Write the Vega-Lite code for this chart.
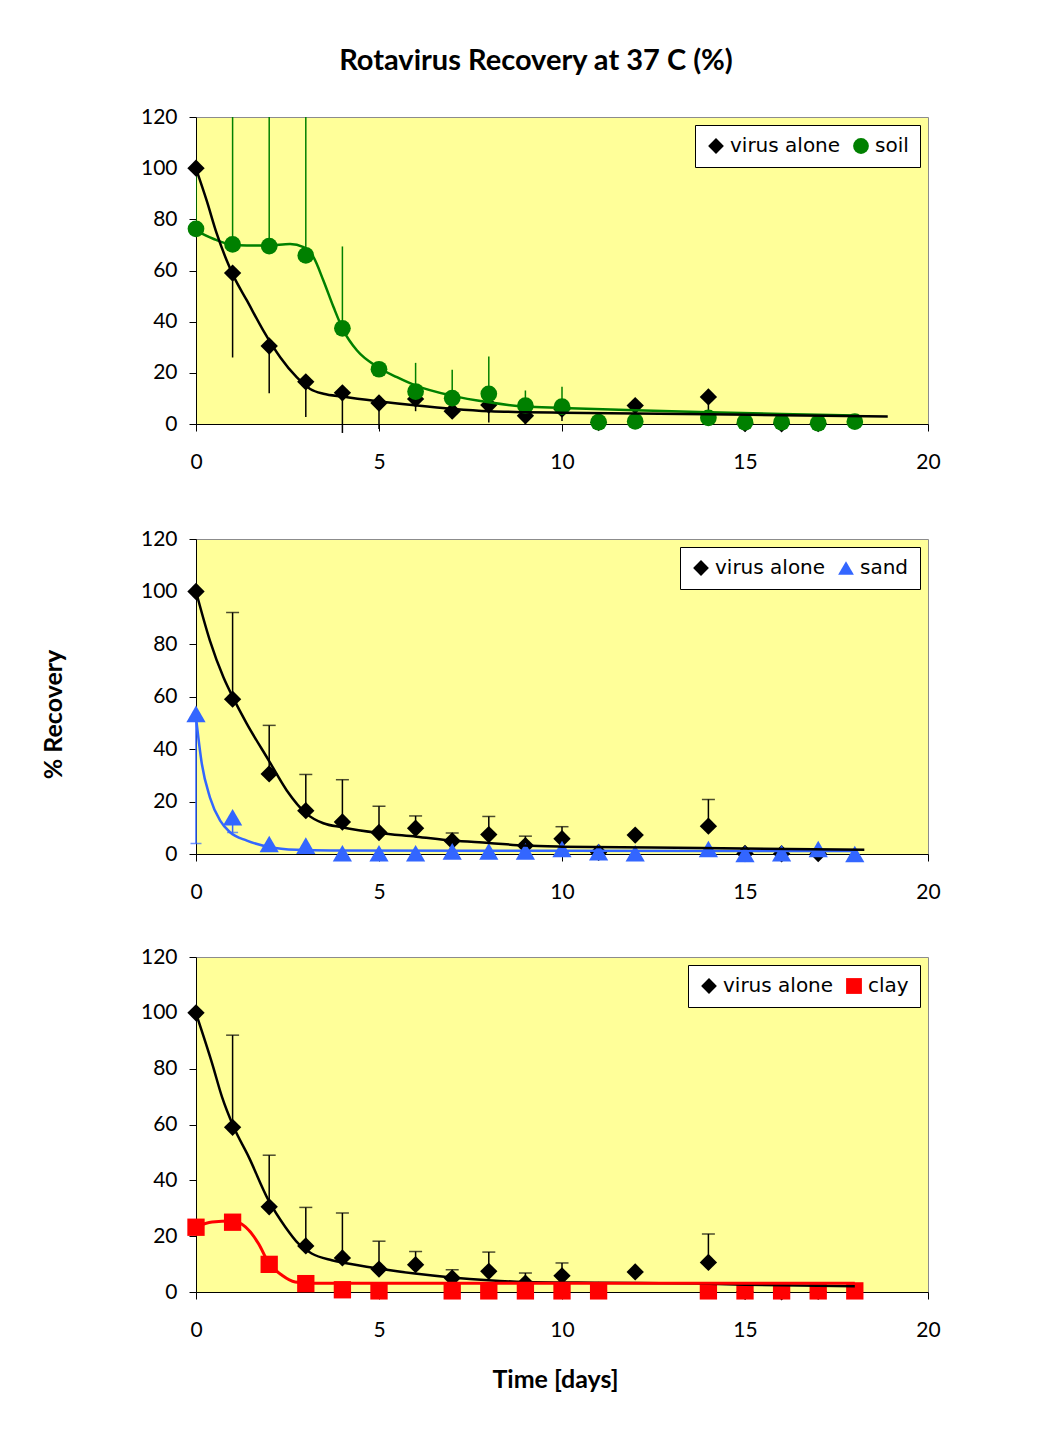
{
  "$schema": "https://vega.github.io/schema/vega-lite/v6.json",
  "background": "white",
  "padding": {"left": 40, "top": 46, "right": 5, "bottom": 5},
  "config": {
    "view": {"fill": "#FFFF99", "stroke": "#8C8C8C", "strokeWidth": 1},
    "axis": {"grid": false, "domainColor": "black", "tickColor": "black", "tickSize": 7, "tickWidth": 1, "domainWidth": 1, "labelFont": "Lato", "labelFontSize": 21, "labelColor": "black", "labelFlush": false, "labelOverlap": false},
    "axisX": {"labelPadding": 20},
    "axisY": {"labelPadding": 12, "titleFont": "Lato", "titleFontSize": 25, "titleFontWeight": "bold", "titleColor": "black", "titleAngle": -90, "titleX": -143, "titleY": 175, "titleAlign": "center", "titleBaseline": "middle"},
    "legend": {"orient": "top-right", "direction": "horizontal", "fillColor": "white", "strokeColor": "black", "padding": 11, "offset": 8, "labelFont": "DejaVu Sans", "labelFontSize": 20, "labelColor": "black", "symbolSize": 250, "symbolStrokeWidth": 0, "symbolOpacity": 1, "labelOffset": 4, "columnPadding": 10}
  },
  "datasets": {
    "virus": [
      {"series": "virus alone", "day": 0, "value": 100},
      {"series": "virus alone", "day": 1, "value": 59, "lo": 26, "hi": 92},
      {"series": "virus alone", "day": 2, "value": 30.5, "lo": 12, "hi": 49},
      {"series": "virus alone", "day": 3, "value": 16.5, "lo": 2.7, "hi": 30.3},
      {"series": "virus alone", "day": 4, "value": 12.2, "lo": -3.5, "hi": 28.3},
      {"series": "virus alone", "day": 5, "value": 8.2, "lo": -2, "hi": 18.2},
      {"series": "virus alone", "day": 6, "value": 9.8, "lo": 5, "hi": 14.5},
      {"series": "virus alone", "day": 7, "value": 5, "lo": 2, "hi": 8},
      {"series": "virus alone", "day": 8, "value": 7.4, "lo": 0.6, "hi": 14.3},
      {"series": "virus alone", "day": 9, "value": 3.2, "lo": -0.3, "hi": 6.8},
      {"series": "virus alone", "day": 10, "value": 5.8, "lo": 1.2, "hi": 10.4},
      {"series": "virus alone", "day": 11, "value": 0.6},
      {"series": "virus alone", "day": 12, "value": 7.2},
      {"series": "virus alone", "day": 14, "value": 10.6, "lo": 0.5, "hi": 20.8},
      {"series": "virus alone", "day": 15, "value": 0.2},
      {"series": "virus alone", "day": 16, "value": 0.1},
      {"series": "virus alone", "day": 17, "value": 0.2}
    ],
    "soil": [
      {"series": "soil", "day": 0, "value": 76.3, "hi": 99},
      {"series": "soil", "day": 1, "value": 70.2, "hi": 160},
      {"series": "soil", "day": 2, "value": 69.5, "hi": 160},
      {"series": "soil", "day": 3, "value": 65.9, "hi": 160},
      {"series": "soil", "day": 4, "value": 37.4, "hi": 69.4},
      {"series": "soil", "day": 5, "value": 21.4},
      {"series": "soil", "day": 6, "value": 12.7, "hi": 23.9},
      {"series": "soil", "day": 7, "value": 10.1, "hi": 21.2},
      {"series": "soil", "day": 8, "value": 11.8, "hi": 26.4},
      {"series": "soil", "day": 9, "value": 7.2, "hi": 13.1},
      {"series": "soil", "day": 10, "value": 6.8, "hi": 14.6},
      {"series": "soil", "day": 11, "value": 0.7},
      {"series": "soil", "day": 12, "value": 1.0},
      {"series": "soil", "day": 14, "value": 2.4},
      {"series": "soil", "day": 15, "value": 0.7},
      {"series": "soil", "day": 16, "value": 0.7},
      {"series": "soil", "day": 17, "value": 0.3},
      {"series": "soil", "day": 18, "value": 0.9}
    ],
    "sand": [
      {"series": "sand", "day": 0, "value": 53.4, "lo": 4},
      {"series": "sand", "day": 1, "value": 14, "lo": 8.2},
      {"series": "sand", "day": 2, "value": 3.8},
      {"series": "sand", "day": 3, "value": 3.2},
      {"series": "sand", "day": 4, "value": 0.3},
      {"series": "sand", "day": 5, "value": 0.3},
      {"series": "sand", "day": 6, "value": 0.3},
      {"series": "sand", "day": 7, "value": 1},
      {"series": "sand", "day": 8, "value": 1},
      {"series": "sand", "day": 9, "value": 1},
      {"series": "sand", "day": 10, "value": 1.9},
      {"series": "sand", "day": 11, "value": 0.7},
      {"series": "sand", "day": 12, "value": 0.3},
      {"series": "sand", "day": 14, "value": 1.9},
      {"series": "sand", "day": 15, "value": 0},
      {"series": "sand", "day": 16, "value": 0.3},
      {"series": "sand", "day": 17, "value": 1.9},
      {"series": "sand", "day": 18, "value": 0}
    ],
    "clay": [
      {"series": "clay", "day": 0, "value": 23.2},
      {"series": "clay", "day": 1, "value": 25},
      {"series": "clay", "day": 2, "value": 9.9},
      {"series": "clay", "day": 3, "value": 3},
      {"series": "clay", "day": 4, "value": 0.8},
      {"series": "clay", "day": 5, "value": 0.4},
      {"series": "clay", "day": 7, "value": 0.4},
      {"series": "clay", "day": 8, "value": 0.4},
      {"series": "clay", "day": 9, "value": 0.4},
      {"series": "clay", "day": 10, "value": 0.4},
      {"series": "clay", "day": 11, "value": 0.4},
      {"series": "clay", "day": 14, "value": 0.4},
      {"series": "clay", "day": 15, "value": 0.4},
      {"series": "clay", "day": 16, "value": 0.4},
      {"series": "clay", "day": 17, "value": 0.4},
      {"series": "clay", "day": 18, "value": 0.4}
    ],
    "fit_virus1": [
      {"day": 0, "value": 99.8}, {"day": 0.29, "value": 87.4}, {"day": 0.57, "value": 74.3}, {"day": 0.84, "value": 63.9},
      {"day": 1.04, "value": 57.4}, {"day": 1.39, "value": 48.3}, {"day": 1.84, "value": 36.5}, {"day": 2.3, "value": 26.1},
      {"day": 2.75, "value": 18.3}, {"day": 3.12, "value": 13.7}, {"day": 3.48, "value": 11.8}, {"day": 4.03, "value": 10.7},
      {"day": 5.03, "value": 8.8}, {"day": 6.04, "value": 7.2}, {"day": 7.04, "value": 5.9}, {"day": 8.04, "value": 5.0},
      {"day": 9, "value": 4.6}, {"day": 10, "value": 4.4}, {"day": 12, "value": 4.1}, {"day": 14, "value": 3.8},
      {"day": 16, "value": 3.4}, {"day": 18.9, "value": 2.9}
    ],
    "fit_soil": [
      {"day": 0, "value": 75.6}, {"day": 0.47, "value": 72.4}, {"day": 0.93, "value": 70.2}, {"day": 1.39, "value": 69.8},
      {"day": 1.98, "value": 69.8}, {"day": 2.57, "value": 70.4}, {"day": 2.94, "value": 69.1}, {"day": 3.21, "value": 65.2},
      {"day": 3.48, "value": 56.1}, {"day": 3.76, "value": 45.6}, {"day": 4.03, "value": 36.5}, {"day": 4.4, "value": 28.7},
      {"day": 4.97, "value": 22.2}, {"day": 5.49, "value": 18.3}, {"day": 6.01, "value": 15.0}, {"day": 6.98, "value": 11.1},
      {"day": 8.0, "value": 8.5}, {"day": 8.98, "value": 6.8}, {"day": 10, "value": 6.3}, {"day": 12, "value": 5.4},
      {"day": 14, "value": 4.6}, {"day": 16, "value": 3.9}, {"day": 18, "value": 3.3}
    ],
    "fit_virus2": [
      {"day": 0, "value": 100}, {"day": 0.38, "value": 81.3}, {"day": 0.75, "value": 67.3}, {"day": 1.04, "value": 58.8},
      {"day": 1.39, "value": 49.6}, {"day": 1.99, "value": 35.6}, {"day": 2.48, "value": 24.2}, {"day": 3.02, "value": 15.3},
      {"day": 3.48, "value": 11.7}, {"day": 3.98, "value": 10.2}, {"day": 5.0, "value": 8.0}, {"day": 6.02, "value": 6.6},
      {"day": 7.0, "value": 5.1}, {"day": 8.0, "value": 4.2}, {"day": 8.98, "value": 3.2}, {"day": 10, "value": 2.8},
      {"day": 13.8, "value": 2.3}, {"day": 18.26, "value": 1.6}
    ],
    "fit_sand": [
      {"day": 0, "value": 52}, {"day": 0.16, "value": 34.3}, {"day": 0.38, "value": 21.6}, {"day": 0.66, "value": 12.7},
      {"day": 0.93, "value": 8.3}, {"day": 1.39, "value": 5.1}, {"day": 2.02, "value": 2.6}, {"day": 2.75, "value": 1.6},
      {"day": 3.67, "value": 1.3}, {"day": 10, "value": 1.2}, {"day": 18, "value": 1.1}
    ],
    "fit_virus3": [
      {"day": 0, "value": 99.8}, {"day": 0.44, "value": 81.9}, {"day": 0.71, "value": 69.9}, {"day": 1.03, "value": 59.1},
      {"day": 1.44, "value": 48.4}, {"day": 1.98, "value": 32.9}, {"day": 2.44, "value": 23.3}, {"day": 2.8, "value": 17.3},
      {"day": 3.16, "value": 13.8}, {"day": 3.71, "value": 11.4}, {"day": 4.07, "value": 10.4}, {"day": 4.98, "value": 8.4},
      {"day": 5.98, "value": 6.6}, {"day": 6.98, "value": 5.2}, {"day": 7.99, "value": 4.2}, {"day": 8.98, "value": 3.6},
      {"day": 11, "value": 3.3}, {"day": 13.8, "value": 3.0}, {"day": 15, "value": 2.6}, {"day": 18, "value": 2.1}
    ],
    "fit_clay": [
      {"day": 0, "value": 23.3}, {"day": 0.44, "value": 25.1}, {"day": 0.98, "value": 25.4}, {"day": 1.35, "value": 23.3},
      {"day": 1.71, "value": 17.3}, {"day": 1.98, "value": 10.6}, {"day": 2.35, "value": 6.0}, {"day": 2.71, "value": 3.6},
      {"day": 3.17, "value": 3.1}, {"day": 10, "value": 3.1}, {"day": 18, "value": 3.1}
    ]
  },
  "resolve": {"scale": {"color": "independent", "shape": "independent"}, "legend": {"color": "independent", "shape": "independent"}},
  "spacing": 42,
  "vconcat": [
    {
      "width": 732,
      "height": 307,
      "title": {"text": "Rotavirus Recovery at 37 C (%)", "font": "Lato", "fontSize": 29, "fontWeight": "bold", "color": "black", "frame": "group", "anchor": "middle", "dx": -26, "offset": 30},
      "layer": [
        {
          "data": {"name": "virus"},
          "transform": [{"filter": {"field": "lo", "valid": true}}],
          "mark": {"type": "rule", "color": "black", "strokeWidth": 1.5},
          "encoding": {
            "x": {"field": "day", "type": "quantitative", "scale": {"domain": [0, 20], "nice": false}, "axis": {"values": [0, 5, 10, 15, 20], "title": " ", "titleFontSize": 10, "titlePadding": 2}},
            "y": {"field": "value", "type": "quantitative", "scale": {"domain": [0, 120], "nice": false}, "axis": {"values": [0, 20, 40, 60, 80, 100, 120], "title": " "}},
            "y2": {"field": "lo"}
          }
        },
        {
          "data": {"name": "soil"},
          "transform": [{"filter": {"field": "hi", "valid": true}}],
          "mark": {"type": "rule", "color": "#008000", "strokeWidth": 1.5, "clip": true},
          "encoding": {
            "x": {"field": "day", "type": "quantitative"},
            "y": {"field": "value", "type": "quantitative"},
            "y2": {"field": "hi"}
          }
        },
        {
          "data": {"name": "virus"},
          "mark": {"type": "point", "filled": true, "opacity": 1, "size": 300},
          "encoding": {
            "x": {"field": "day", "type": "quantitative"},
            "y": {"field": "value", "type": "quantitative"},
            "shape": {"field": "series", "type": "nominal", "scale": {"domain": ["virus alone", "soil"], "range": ["diamond", "circle"]}, "legend": {"title": null}},
            "color": {"field": "series", "type": "nominal", "scale": {"domain": ["virus alone", "soil"], "range": ["#000000", "#008000"]}, "legend": {"title": null}}
          }
        },
        {
          "data": {"name": "soil"},
          "mark": {"type": "point", "filled": true, "opacity": 1, "size": 280},
          "encoding": {
            "x": {"field": "day", "type": "quantitative"},
            "y": {"field": "value", "type": "quantitative"},
            "shape": {"field": "series", "type": "nominal", "scale": {"domain": ["virus alone", "soil"], "range": ["diamond", "circle"]}, "legend": {"title": null}},
            "color": {"field": "series", "type": "nominal", "scale": {"domain": ["virus alone", "soil"], "range": ["#000000", "#008000"]}, "legend": {"title": null}}
          }
        },
        {
          "data": {"name": "fit_soil"},
          "mark": {"type": "line", "color": "#008000", "strokeWidth": 2.5, "interpolate": "monotone"},
          "encoding": {"x": {"field": "day", "type": "quantitative"}, "y": {"field": "value", "type": "quantitative"}}
        },
        {
          "data": {"name": "fit_virus1"},
          "mark": {"type": "line", "color": "black", "strokeWidth": 2.5, "interpolate": "monotone"},
          "encoding": {"x": {"field": "day", "type": "quantitative"}, "y": {"field": "value", "type": "quantitative"}}
        }
      ]
    },
    {
      "width": 732,
      "height": 315,
      "layer": [
        {
          "data": {"name": "virus"},
          "transform": [{"filter": {"field": "hi", "valid": true}}],
          "mark": {"type": "rule", "color": "black", "strokeWidth": 1.5},
          "encoding": {
            "x": {"field": "day", "type": "quantitative", "scale": {"domain": [0, 20], "nice": false}, "axis": {"values": [0, 5, 10, 15, 20], "title": null}},
            "y": {"field": "value", "type": "quantitative", "scale": {"domain": [0, 120], "nice": false}, "axis": {"values": [0, 20, 40, 60, 80, 100, 120], "title": "% Recovery"}},
            "y2": {"field": "hi"}
          }
        },
        {
          "data": {"name": "virus"},
          "transform": [{"filter": {"field": "hi", "valid": true}}],
          "mark": {"type": "tick", "color": "black", "orient": "horizontal", "size": 13, "thickness": 1.5},
          "encoding": {"x": {"field": "day", "type": "quantitative"}, "y": {"field": "hi", "type": "quantitative"}}
        },
        {
          "data": {"name": "sand"},
          "transform": [{"filter": {"field": "lo", "valid": true}}],
          "mark": {"type": "rule", "color": "#3366FF", "strokeWidth": 1.5},
          "encoding": {"x": {"field": "day", "type": "quantitative"}, "y": {"field": "value", "type": "quantitative"}, "y2": {"field": "lo"}}
        },
        {
          "data": {"name": "sand"},
          "transform": [{"filter": {"field": "lo", "valid": true}}],
          "mark": {"type": "tick", "color": "#3366FF", "orient": "horizontal", "size": 11, "thickness": 1.5},
          "encoding": {"x": {"field": "day", "type": "quantitative"}, "y": {"field": "lo", "type": "quantitative"}}
        },
        {
          "data": {"name": "virus"},
          "mark": {"type": "point", "filled": true, "opacity": 1, "size": 300},
          "encoding": {
            "x": {"field": "day", "type": "quantitative"},
            "y": {"field": "value", "type": "quantitative"},
            "shape": {"field": "series", "type": "nominal", "scale": {"domain": ["virus alone", "sand"], "range": ["diamond", "triangle-up"]}, "legend": {"title": null}},
            "color": {"field": "series", "type": "nominal", "scale": {"domain": ["virus alone", "sand"], "range": ["#000000", "#3366FF"]}, "legend": {"title": null}}
          }
        },
        {
          "data": {"name": "sand"},
          "mark": {"type": "point", "filled": true, "opacity": 1, "size": 370},
          "encoding": {
            "x": {"field": "day", "type": "quantitative"},
            "y": {"field": "value", "type": "quantitative"},
            "shape": {"field": "series", "type": "nominal", "scale": {"domain": ["virus alone", "sand"], "range": ["diamond", "triangle-up"]}, "legend": {"title": null}},
            "color": {"field": "series", "type": "nominal", "scale": {"domain": ["virus alone", "sand"], "range": ["#000000", "#3366FF"]}, "legend": {"title": null}}
          }
        },
        {
          "data": {"name": "fit_sand"},
          "mark": {"type": "line", "color": "#3366FF", "strokeWidth": 2.5, "interpolate": "monotone"},
          "encoding": {"x": {"field": "day", "type": "quantitative"}, "y": {"field": "value", "type": "quantitative"}}
        },
        {
          "data": {"name": "fit_virus2"},
          "mark": {"type": "line", "color": "black", "strokeWidth": 2.5, "interpolate": "monotone"},
          "encoding": {"x": {"field": "day", "type": "quantitative"}, "y": {"field": "value", "type": "quantitative"}}
        }
      ]
    },
    {
      "width": 732,
      "height": 335,
      "layer": [
        {
          "data": {"name": "virus"},
          "transform": [{"filter": {"field": "hi", "valid": true}}],
          "mark": {"type": "rule", "color": "black", "strokeWidth": 1.5},
          "encoding": {
            "x": {"field": "day", "type": "quantitative", "scale": {"domain": [0, 20], "nice": false}, "axis": {"values": [0, 5, 10, 15, 20], "title": "Time [days]", "titleFont": "Lato", "titleFontSize": 25, "titleFontWeight": "bold", "titleColor": "black", "titleX": 359, "titleY": 87, "titleAlign": "center", "titleBaseline": "middle"}},
            "y": {"field": "value", "type": "quantitative", "scale": {"domain": [0, 120], "nice": false}, "axis": {"values": [0, 20, 40, 60, 80, 100, 120], "title": " "}},
            "y2": {"field": "hi"}
          }
        },
        {
          "data": {"name": "virus"},
          "transform": [{"filter": {"field": "hi", "valid": true}}],
          "mark": {"type": "tick", "color": "black", "orient": "horizontal", "size": 13, "thickness": 1.5},
          "encoding": {"x": {"field": "day", "type": "quantitative"}, "y": {"field": "hi", "type": "quantitative"}}
        },
        {
          "data": {"name": "virus"},
          "mark": {"type": "point", "filled": true, "opacity": 1, "size": 300},
          "encoding": {
            "x": {"field": "day", "type": "quantitative"},
            "y": {"field": "value", "type": "quantitative"},
            "shape": {"field": "series", "type": "nominal", "scale": {"domain": ["virus alone", "clay"], "range": ["diamond", "square"]}, "legend": {"title": null}},
            "color": {"field": "series", "type": "nominal", "scale": {"domain": ["virus alone", "clay"], "range": ["#000000", "#FF0000"]}, "legend": {"title": null}}
          }
        },
        {
          "data": {"name": "clay"},
          "mark": {"type": "point", "filled": true, "opacity": 1, "size": 300},
          "encoding": {
            "x": {"field": "day", "type": "quantitative"},
            "y": {"field": "value", "type": "quantitative"},
            "shape": {"field": "series", "type": "nominal", "scale": {"domain": ["virus alone", "clay"], "range": ["diamond", "square"]}, "legend": {"title": null}},
            "color": {"field": "series", "type": "nominal", "scale": {"domain": ["virus alone", "clay"], "range": ["#000000", "#FF0000"]}, "legend": {"title": null}}
          }
        },
        {
          "data": {"name": "fit_virus3"},
          "mark": {"type": "line", "color": "black", "strokeWidth": 2.5, "interpolate": "monotone"},
          "encoding": {"x": {"field": "day", "type": "quantitative"}, "y": {"field": "value", "type": "quantitative"}}
        },
        {
          "data": {"name": "fit_clay"},
          "mark": {"type": "line", "color": "#FF0000", "strokeWidth": 3, "interpolate": "monotone"},
          "encoding": {"x": {"field": "day", "type": "quantitative"}, "y": {"field": "value", "type": "quantitative"}}
        }
      ]
    }
  ]
}
